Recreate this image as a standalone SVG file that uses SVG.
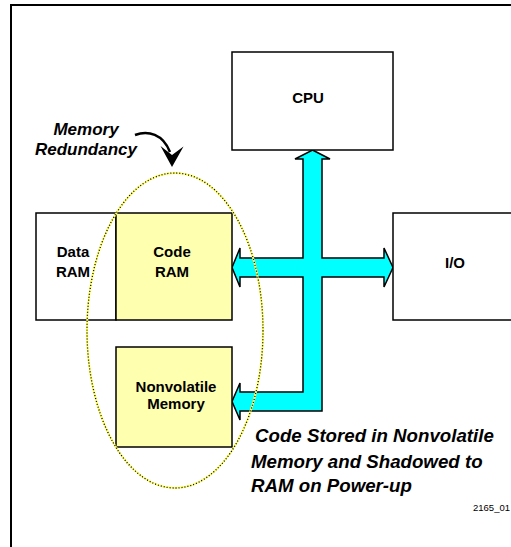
<svg xmlns="http://www.w3.org/2000/svg" width="511" height="547" viewBox="0 0 511 547">
  <style>
    .box { stroke: #000; stroke-width: 1.5; }
    .plain { fill: #fff; }
    .mem { fill: #ffffb0; }
    .lbl { font-family: "Liberation Sans", Arial, sans-serif; font-weight: bold; font-size: 15px; fill: #000; text-anchor: middle; }
    .note { font-family: "Liberation Sans", Arial, sans-serif; font-weight: bold; font-style: italic; font-size: 18.7px; fill: #000; }
  </style>
  <rect x="11" y="5" width="540" height="580" fill="#fff" stroke="#000" stroke-width="2"/>

  <g id="connectors">
    <polygon points="312.5,150 330,159 322,159 322,258 384,258 384,248 393,267.5 384,287 384,277 322,277 322,411 240,411 240,420 232,401.5 240,383 240,392 303,392 303,277 240,277 240,287 232,267.5 240,248 240,258 303,258 303,159 295,159" fill="#00ffff" stroke="#000" stroke-width="1.5" stroke-linejoin="miter"/>
    <path d="M135,135 C148,130 163,134 170,152" fill="none" stroke="#000" stroke-width="2.5"/>
    <polygon points="160.5,146 172,155 183.5,146.5 172,167" fill="#000"/>
  </g>

  <g id="cpu">
    <rect class="box plain" x="232" y="52" width="161" height="98"/>
    <text class="lbl" x="308" y="103">CPU</text>
  </g>
  <g id="data-ram">
    <rect class="box plain" x="36" y="213" width="80" height="107"/>
    <text class="lbl" x="73" y="257">Data</text>
    <text class="lbl" x="73" y="277">RAM</text>
  </g>
  <g id="code-ram">
    <rect class="box mem" x="116" y="213" width="116" height="107"/>
    <text class="lbl" x="172" y="257">Code</text>
    <text class="lbl" x="172" y="277">RAM</text>
  </g>
  <g id="io">
    <rect class="box plain" x="393" y="213" width="120" height="107"/>
    <text class="lbl" x="455" y="268">I/O</text>
  </g>
  <g id="nonvolatile">
    <rect class="box mem" x="116" y="347" width="116" height="100"/>
    <text class="lbl" x="176" y="392">Nonvolatile</text>
    <text class="lbl" x="176" y="409">Memory</text>
  </g>
  <g id="redundancy">
    <ellipse cx="175" cy="330.5" rx="88" ry="157.5" fill="none" stroke="#ffff66" stroke-width="2"/>
    <ellipse cx="175" cy="330.5" rx="88" ry="157.5" fill="none" stroke="#000" stroke-width="1.3" stroke-dasharray="1,2"/>
  </g>
  <g id="labels">
    <text class="note" x="86" y="135" text-anchor="middle" style="font-size:17px">Memory</text>
    <text class="note" x="86" y="155" text-anchor="middle" style="font-size:17px">Redundancy</text>
    <text class="note" x="255" y="442">Code Stored in Nonvolatile</text>
    <text class="note" x="251" y="468">Memory and Shadowed to</text>
    <text class="note" x="251" y="492">RAM on Power-up</text>
    <text x="473" y="511" font-family="Liberation Sans, Arial, sans-serif" font-size="9.5" fill="#000">2165_01</text>
  </g>
</svg>
